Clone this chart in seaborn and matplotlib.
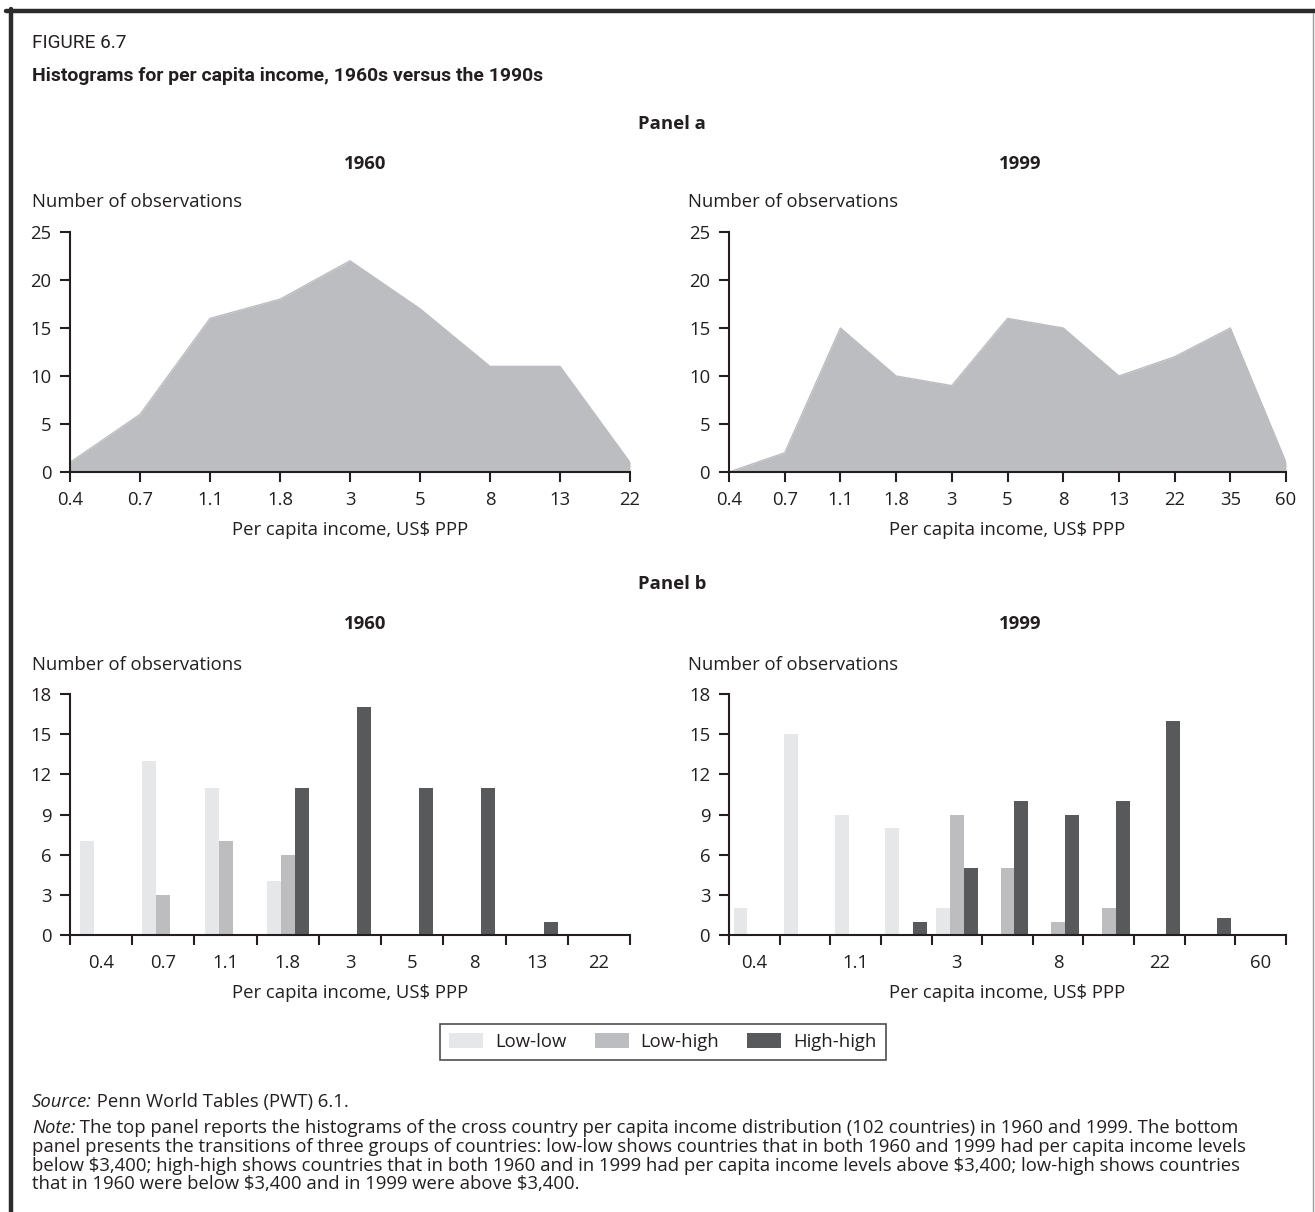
import matplotlib
matplotlib.use("Agg")
import matplotlib.pyplot as plt
import matplotlib.patches as mpatches
from matplotlib.lines import Line2D
import seaborn as sns
import pandas as pd
import numpy as np

# ---------------- data ----------------
income_1960 = ["0.4", "0.7", "1.1", "1.8", "3", "5", "8", "13", "22"]
income_1999 = ["0.4", "0.7", "1.1", "1.8", "3", "5", "8", "13", "22", "35", "60"]

hist_1960 = [1, 6, 16, 18, 22, 17, 11, 11, 1]
hist_1999 = [0, 2, 15, 10, 9, 16, 15, 10, 12, 15, 1]

groups = ["Low-low", "Low-high", "High-high"]

low_low_1960 = [7, 13, 11, 4, 0, 0, 0, 0, 0]
low_high_1960 = [0, 3, 7, 6, 0, 0, 0, 0, 0]
high_high_1960 = [0, 0, 0, 11, 17, 11, 11, 1, 0]

low_low_1999 = [2, 15, 9, 8, 2, 0, 0, 0, 0, 0, 0]
low_high_1999 = [0, 0, 0, 0, 9, 5, 1, 2, 0, 0, 0]
high_high_1999 = [0, 0, 0, 1, 5, 10, 9, 10, 16, 1.25, 0]

ticklabels_b_1999 = ["0.4", "1.1", "3", "8", "22", "60"]

# ---------------- style ----------------
W, H = 1315, 1212
DPI = 100
INK = "#231f20"
AREA = "#bcbdc0"
PALETTE = {"Low-low": "#e6e7e8", "Low-high": "#bcbdc0", "High-high": "#58595b"}
FS = 13.3

sns.set_theme(style="ticks")
plt.rcParams["font.family"] = ["Open Sans", "DejaVu Sans"]
plt.rcParams.update({
    "text.color": INK,
    "axes.labelcolor": INK,
    "xtick.color": INK,
    "ytick.color": INK,
    "axes.edgecolor": INK,
    "axes.linewidth": 1.5,
    "xtick.major.width": 1.5,
    "ytick.major.width": 1.5,
    "xtick.minor.width": 1.5,
    "xtick.major.size": 7.5,
    "ytick.major.size": 7.5,
    "xtick.minor.size": 7.5,
    "xtick.labelsize": FS,
    "ytick.labelsize": FS,
    "axes.labelsize": FS,
})

fig = plt.figure(figsize=(W / DPI, H / DPI), dpi=DPI)


def rect(x0, y0, x1, y1):
    return [x0 / W, 1 - y1 / H, (x1 - x0) / W, (y1 - y0) / H]


def fy(y):
    return 1 - y / H


def fx(x):
    return x / W


bg = fig.add_axes([0, 0, 1, 1], zorder=-5)
bg.set_xlim(0, 1)
bg.set_ylim(0, 1)
bg.axis("off")

# frame lines (top thick, left thick, right thin)
bg.add_line(Line2D([fx(6), fx(W)], [fy(11), fy(11)], color="#2b2b2b", lw=3.2))
bg.add_line(Line2D([fx(10.5), fx(10.5)], [fy(9), 0], color="#2b2b2b", lw=3.2))
bg.add_line(Line2D([fx(1313), fx(1313)], [fy(13), 0], color="#9a9a9a", lw=1.0))


def style_axes(ax):
    sns.despine(ax=ax)
    ax.tick_params(axis="y", pad=6)
    ax.set_ylabel("")


def area_panel(ax, cats, vals):
    pos = np.arange(len(cats))
    df = pd.DataFrame({"pos": pos, "count": vals})
    sns.lineplot(data=df, x="pos", y="count", color=AREA, linewidth=1.0, ax=ax)
    ax.fill_between(df["pos"], df["count"], color=AREA, linewidth=0)
    ax.set_xlim(0, len(cats) - 1)
    ax.set_ylim(0, 25)
    ax.set_yticks(range(0, 26, 5))
    ax.set_xticks(pos, cats)
    ax.tick_params(axis="x", pad=6)
    ax.set_xlabel("Per capita income, US$ PPP", labelpad=9)
    style_axes(ax)


def bar_panel(ax, cats, ll, lh, hh, width, labels_idx=None, labels=None):
    df = pd.DataFrame({
        "income": cats * 3,
        "group": ["Low-low"] * len(cats) + ["Low-high"] * len(cats) + ["High-high"] * len(cats),
        "count": list(ll) + list(lh) + list(hh),
    })
    sns.barplot(data=df, x="income", y="count", hue="group", order=cats,
                hue_order=groups, palette=PALETTE, width=width, dodge=True,
                errorbar=None, linewidth=0, legend=False, ax=ax)
    n = len(cats)
    ax.set_xlim(-0.5, n - 0.5)
    ax.set_ylim(0, 18)
    ax.set_yticks(range(0, 19, 3))
    if labels_idx is None:
        ax.set_xticks(range(n), cats)
    else:
        ax.set_xticks(labels_idx, labels)
    ax.set_xticks(np.arange(-0.5, n, 1.0), minor=True)
    ax.tick_params(axis="x", which="major", length=0, pad=13.5)
    ax.tick_params(axis="x", which="minor", length=7.5)
    ax.set_xlabel("Per capita income, US$ PPP", labelpad=9)
    style_axes(ax)


ax_a1 = fig.add_axes(rect(70, 232, 630, 472))
ax_a2 = fig.add_axes(rect(729, 232, 1286, 472))
ax_b1 = fig.add_axes(rect(70, 694, 630, 935))
ax_b2 = fig.add_axes(rect(729, 694, 1286, 935))

area_panel(ax_a1, income_1960, hist_1960)
area_panel(ax_a2, income_1999, hist_1999)
bar_panel(ax_b1, income_1960, low_low_1960, low_high_1960, high_high_1960, 0.67)
bar_panel(ax_b2, income_1999, low_low_1999, low_high_1999, high_high_1999, 0.82,
          labels_idx=list(range(0, 11, 2)), labels=ticklabels_b_1999)

# ---------------- texts ----------------
renderer = fig.canvas.get_renderer()


def fit_text(x, y, s, target_w, fs, **kw):
    t = fig.text(fx(x), fy(y), s, fontsize=fs, va="center", ha="left", **kw)
    w = t.get_window_extent(renderer=renderer).width
    t.set_fontsize(fs * target_w / w)
    return t


fit_text(32, 43, "FIGURE 6.7", 94, 13, family=["Roboto", "DejaVu Sans"],
         fontstretch="condensed")
fit_text(32, 76, "Histograms for per capita income, 1960s versus the 1990s", 514, 14,
         family=["Roboto", "DejaVu Sans"], fontweight="bold", fontstretch="condensed")

for y, s in [(124, "Panel a"), (584, "Panel b")]:
    fig.text(fx(672), fy(y), s, fontsize=FS, fontweight="bold", ha="center", va="center")
for y in (164, 624):
    fig.text(fx(365), fy(y), "1960", fontsize=FS, fontweight="bold", ha="center", va="center")
    fig.text(fx(1020), fy(y), "1999", fontsize=FS, fontweight="bold", ha="center", va="center")
for y in (202, 665):
    fig.text(fx(32), fy(y), "Number of observations", fontsize=FS, ha="left", va="center")
    fig.text(fx(688), fy(y), "Number of observations", fontsize=FS, ha="left", va="center")

# legend
handles = [mpatches.Patch(facecolor=PALETTE[g], edgecolor="none", label=g) for g in groups]
leg = fig.legend(handles=handles, loc="center", bbox_to_anchor=(fx(663), fy(1042)),
                 ncol=3, frameon=True, fancybox=False, fontsize=FS,
                 handlelength=1.85, handleheight=0.85, handletextpad=0.65,
                 columnspacing=1.5, borderpad=0.5)
leg.get_frame().set_edgecolor(INK)
leg.get_frame().set_linewidth(1.2)

# source and note
t_src = bg.text(fx(32), fy(1102), "Source:", fontsize=FS, style="italic", ha="left", va="center")
bg.annotate(" Penn World Tables (PWT) 6.1.", xy=(1, 0.5), xycoords=t_src,
            fontsize=FS, ha="left", va="center")
t_note = bg.text(fx(32), fy(1128), "Note:", fontsize=FS, style="italic", ha="left", va="center")
bg.annotate(" The top panel reports the histograms of the cross country per capita income "
            "distribution (102 countries) in 1960 and 1999. The bottom",
            xy=(1, 0.5), xycoords=t_note, fontsize=FS, ha="left", va="center")
note_lines = [
    "panel presents the transitions of three groups of countries: low-low shows countries that in both 1960 and 1999 had per capita income levels",
    "below $3,400; high-high shows countries that in both 1960 and in 1999 had per capita income levels above $3,400; low-high shows countries",
    "that in 1960 were below $3,400 and in 1999 were above $3,400.",
]
for y, s in zip((1147, 1166, 1184), note_lines):
    bg.text(fx(32), fy(y), s, fontsize=FS, ha="left", va="center", parse_math=False)

fig.savefig("out.png", dpi=DPI)
